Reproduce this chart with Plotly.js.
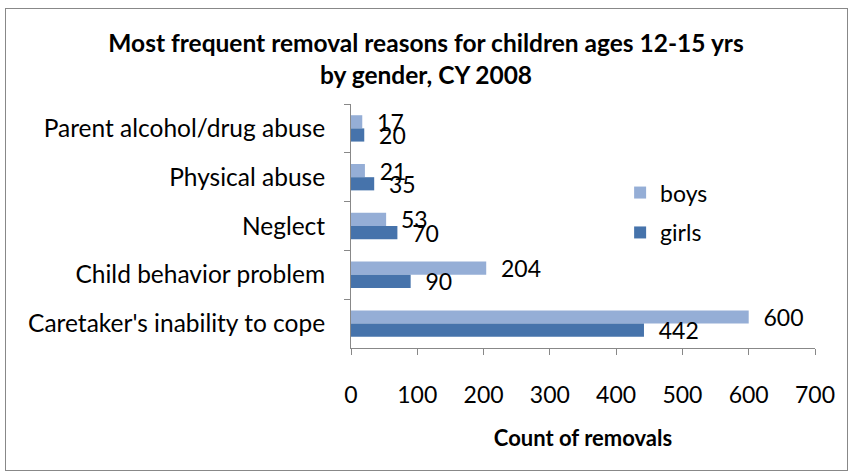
<!DOCTYPE html>
<html><head><meta charset="utf-8">
<script src="https://cdn.plot.ly/plotly-3.0.1.min.js"></script>
<style>
html,body{margin:0;padding:0;background:#fff;}
#wrap{position:relative;width:852px;height:472px;}
#frame{position:absolute;left:5px;top:8px;width:841px;height:461px;border:1px solid #888;pointer-events:none;}
#chart{position:absolute;left:0;top:0;width:852px;height:472px;}
</style></head>
<body>
<div id="wrap"><div id="chart"></div><div id="frame"></div></div>
<script>
const categories = ["Parent alcohol/drug abuse", "Physical abuse", "Neglect", "Child behavior problem", "Caretaker's inability to cope"];
const boys = [17, 21, 53, 204, 600];
const girls = [20, 35, 70, 90, 442];
const xTicks = [0, 100, 200, 300, 400, 500, 600, 700];

const FONT = "Lato, 'Open Sans', sans-serif";
const common = {
  type: 'bar', orientation: 'h', y: categories,
  textposition: 'outside', constraintext: 'none', cliponaxis: false,
  texttemplate: '  %{x}',
  textfont: {family: FONT, size: 23, color: '#000'},
  hoverinfo: 'skip'
};
const data = [
  Object.assign({}, common, {name: 'boys', x: boys, marker: {color: '#95AED6'}, legendgroup: 'a'}),
  Object.assign({}, common, {name: 'girls', x: girls, marker: {color: '#4673AB'}, legendgroup: 'b'})
];
const layout = {
  width: 852, height: 472,
  margin: {l: 351, r: 37, t: 104, b: 124},
  paper_bgcolor: '#fff', plot_bgcolor: '#fff',
  font: {family: FONT, size: 23, color: '#000'},
  title: {text: '<b>Most frequent removal reasons for children ages 12-15 yrs<br>by gender, CY 2008</b>',
    font: {family: FONT, size: 24.5, color: '#000'}, x: 0.5, xref: 'container', xanchor: 'center',
    y: 1 - 52/472, yref: 'container', yanchor: 'top'},
  barmode: 'group', bargap: 0.46, bargroupgap: 0,
  showlegend: true,
  legend: {x: 0.58, y: 0.725, xanchor: 'left', yanchor: 'top', font: {family: FONT, size: 23},
    traceorder: 'grouped', tracegroupgap: 7, bgcolor: 'rgba(0,0,0,0)'},
  xaxis: {range: [0, 700], tickvals: xTicks, ticktext: xTicks.map(String), showgrid: false, zeroline: false,
    showline: true, linecolor: '#888', linewidth: 1, ticks: 'outside', ticklen: 6, tickcolor: '#888',
    ticklabelstandoff: 20,
    tickfont: {family: FONT, size: 23}, fixedrange: true,
    title: {text: '<b>Count of removals</b>', font: {family: FONT, size: 22}, standoff: 24}},
  yaxis: {type: 'category', categoryorder: 'array', categoryarray: categories, autorange: 'reversed',
    showgrid: false, zeroline: false, showline: true, linecolor: '#888', linewidth: 1,
    ticks: 'outside', ticklen: 6, tickcolor: '#888', tickson: 'boundaries', ticklabelstandoff: 20,
    tickfont: {family: FONT, size: 24.5}, fixedrange: true}
};
Plotly.newPlot('chart', data, layout, {staticPlot: true, displayModeBar: false});
</script>
</body></html>
